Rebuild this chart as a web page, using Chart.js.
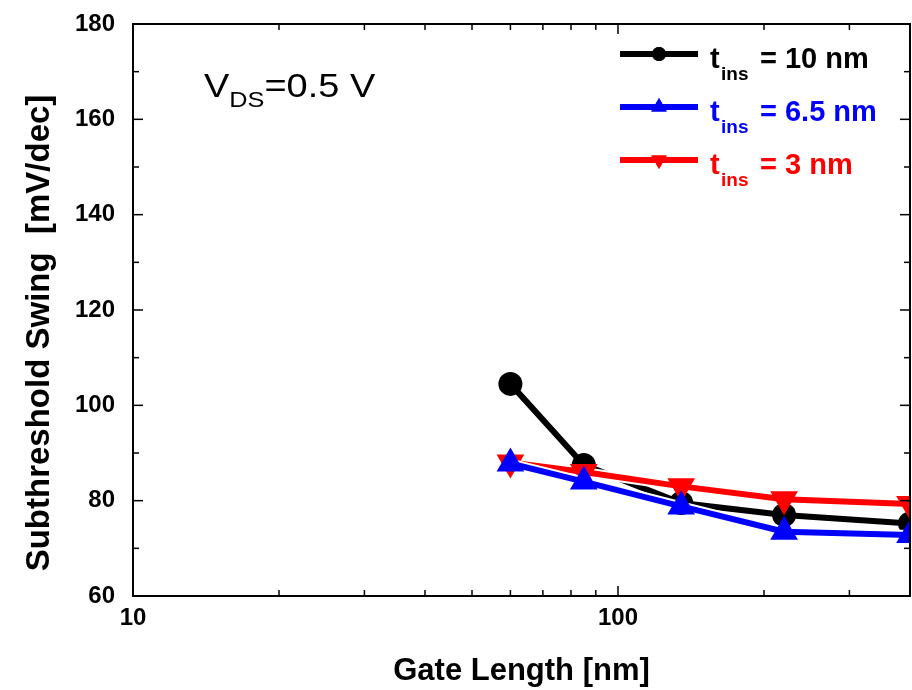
<!DOCTYPE html>
<html>
<head>
<meta charset="utf-8">
<script src="https://cdn.jsdelivr.net/npm/chart.js@4.4.1/dist/chart.umd.min.js"></script>
<style>
  html, body { margin: 0; padding: 0; background: #fff; overflow: hidden; }
  #wrap { width: 912px; height: 690px; position: relative; }
  canvas { display: block; }
</style>
</head>
<body>
<div id="wrap"><canvas id="chart"></canvas></div>
<script>
// Données
const gateLength = [60, 85, 135, 220, 400];
const swing10 = [104.5, 87.5, 79.5, 77.0, 75.2];
const swing65 = [87.8, 84.0, 78.8, 73.5, 72.8];
const swing3 = [88.0, 86.0, 83.0, 80.3, 79.3];
const seriesNames = ['10 nm', '6.5 nm', '3 nm'];
const xTickLabels = [10, 100];
const xMinorTicks = [20, 30, 40, 50, 60, 70, 80, 90, 200, 300];
const yTicks = [60, 80, 100, 120, 140, 160, 180];
const yMinorTicks = [70, 90, 110, 130, 150, 170];
const yTitle = 'Subthreshold Swing  [mV/dec]';

const colors = {
    black: '#000000',
    blue: '#0000ff',
    red: '#ff0000',
    text: '#000000'
};
const fontFamily = "'Liberation Sans', Arial, sans-serif";

const series = [
    { name: seriesNames[0], values: swing10, color: colors.black, style: 'circle', radius: 12, rotation: 0, legendRadius: 7, order: 2 },
    { name: seriesNames[1], values: swing65, color: colors.blue, style: 'triangle', radius: 16, rotation: 0, legendRadius: 9, order: 0 },
    { name: seriesNames[2], values: swing3, color: colors.red, style: 'triangle', radius: 16, rotation: 180, legendRadius: 9, order: 1 }
];

// Contour blanc sous les lignes (style Origin)
const outlinePlugin = {
    id: 'outline',
    beforeDatasetDraw(chart, args) {
        const pts = args.meta.data;
        const ds = chart.data.datasets[args.index];
        const ctx = chart.ctx;
        const a = chart.chartArea;
        ctx.save();
        ctx.beginPath();
        ctx.rect(a.left, a.top, a.right - a.left, a.bottom - a.top);
        ctx.clip();
        ctx.beginPath();
        pts.forEach((p, i) => i ? ctx.lineTo(p.x, p.y) : ctx.moveTo(p.x, p.y));
        ctx.strokeStyle = '#fff';
        ctx.lineWidth = ds.borderWidth + 4;
        ctx.lineJoin = 'round';
        ctx.stroke();
        ctx.restore();
    }
};

// Cadre + graduations vers l'intérieur
const framePlugin = {
    id: 'frame',
    afterDraw(chart) {
        const ctx = chart.ctx;
        const a = chart.chartArea;
        const xs = chart.scales.x;
        const ys = chart.scales.y;
        ctx.save();
        ctx.strokeStyle = colors.text;
        ctx.lineWidth = 2;
        ctx.strokeRect(a.left, a.top, a.right - a.left, a.bottom - a.top);
        ctx.lineWidth = 1.5;
        const tick = (x1, y1, x2, y2) => {
            ctx.beginPath(); ctx.moveTo(x1, y1); ctx.lineTo(x2, y2); ctx.stroke();
        };
        xTickLabels.forEach(v => {
            const x = xs.getPixelForValue(v);
            tick(x, a.bottom, x, a.bottom - 10);
            tick(x, a.top, x, a.top + 10);
        });
        xMinorTicks.forEach(v => {
            const x = xs.getPixelForValue(v);
            tick(x, a.bottom, x, a.bottom - 6);
            tick(x, a.top, x, a.top + 6);
        });
        yTicks.forEach(v => {
            const y = ys.getPixelForValue(v);
            tick(a.left, y, a.left + 10, y);
            tick(a.right, y, a.right - 10, y);
        });
        yMinorTicks.forEach(v => {
            const y = ys.getPixelForValue(v);
            tick(a.left, y, a.left + 6, y);
            tick(a.right, y, a.right - 6, y);
        });

        // titre de l'axe Y (un peu décalé vers le bas comme sur l'original)
        ctx.fillStyle = colors.text;
        ctx.translate(40, 333);
        ctx.rotate(-Math.PI / 2);
        ctx.font = 'bold 33px ' + fontFamily;
        ctx.textAlign = 'center';
        ctx.textBaseline = 'middle';
        ctx.fillText(yTitle, 0, 0);
        ctx.restore();
    }
};

// Légende et annotation dessinées à la main
const legendPlugin = {
    id: 'customLegend',
    afterDraw(chart) {
        const ctx = chart.ctx;
        ctx.save();
        series.forEach((s, i) => {
            const y = 54 + i * 53;
            ctx.strokeStyle = s.color;
            ctx.lineWidth = 6;
            ctx.beginPath();
            ctx.moveTo(620, y);
            ctx.lineTo(698, y);
            ctx.stroke();
            ctx.fillStyle = s.color;
            Chart.helpers.drawPoint(ctx, {
                pointStyle: s.style, radius: s.legendRadius, rotation: s.rotation,
                borderWidth: 0
            }, 659, y);
            ctx.fill();
            ctx.textBaseline = 'alphabetic';
            ctx.font = 'bold 29px ' + fontFamily;
            ctx.fillText('t', 710, y + 14);
            ctx.font = 'bold 19px ' + fontFamily;
            ctx.fillText('ins', 721, y + 26);
            ctx.font = 'bold 29px ' + fontFamily;
            ctx.fillText('= ' + s.name, 760, y + 14);
        });

        // V_DS = 0.5 V
        ctx.fillStyle = colors.text;
        ctx.translate(204, 0);
        ctx.scale(1.15, 1);
        ctx.font = '33px ' + fontFamily;
        ctx.fillText('V', 0, 97);
        let w = ctx.measureText('V').width;
        ctx.font = '22px ' + fontFamily;
        ctx.fillText('DS', w, 107);
        w += ctx.measureText('DS').width;
        ctx.font = '33px ' + fontFamily;
        ctx.fillText('=0.5 V', w, 97);
        ctx.restore();
    }
};

const ctx = document.getElementById('chart').getContext('2d');
new Chart(ctx, {
    type: 'line',
    data: {
        datasets: series.map(s => ({
            label: s.name,
            data: gateLength.map((x, i) => ({ x: x, y: s.values[i] })),
            borderColor: s.color,
            backgroundColor: s.color,
            borderWidth: 6,
            pointStyle: s.style,
            pointRadius: s.radius,
            pointHoverRadius: s.radius,
            pointRotation: s.rotation,
            pointBorderWidth: 0,
            tension: 0,
            order: s.order
        }))
    },
    options: {
        responsive: true,
        maintainAspectRatio: false,
        animation: false,
        layout: { autoPadding: false, padding: { top: 24, right: 2, left: 0, bottom: 0 } },
        plugins: {
            legend: { display: false },
            tooltip: { enabled: false }
        },
        scales: {
            x: {
                type: 'logarithmic',
                min: 10,
                max: 400,
                grid: { display: false, drawTicks: false },
                border: { color: colors.text, width: 2 },
                afterBuildTicks: s => { s.ticks = xTickLabels.map(v => ({ value: v })); },
                afterFit: s => {
                    s.height = 94;
                    s.paddingLeft = 0;
                    s.paddingRight = 0;
                },
                ticks: {
                    color: colors.text,
                    font: { family: fontFamily, size: 24, weight: 'bold' },
                    padding: 8,
                    autoSkip: false,
                    maxRotation: 0,
                    callback: v => String(v)
                },
                title: {
                    display: true,
                    text: 'Gate Length [nm]',
                    color: colors.text,
                    font: { family: fontFamily, size: 31, weight: 'bold' },
                    padding: { top: 0, bottom: 0 }
                }
            },
            y: {
                min: 60,
                max: 180,
                grid: { display: false, drawTicks: false },
                border: { color: colors.text, width: 2 },
                afterBuildTicks: s => { s.ticks = yTicks.map(v => ({ value: v })); },
                afterFit: s => {
                    s.width = 133;
                    s.paddingTop = 0;
                    s.paddingBottom = 0;
                },
                ticks: {
                    color: colors.text,
                    font: { family: fontFamily, size: 24, weight: 'bold' },
                    padding: 18
                },
                title: { display: false }
            }
        }
    },
    plugins: [outlinePlugin, framePlugin, legendPlugin]
});
</script>
</body>
</html>
